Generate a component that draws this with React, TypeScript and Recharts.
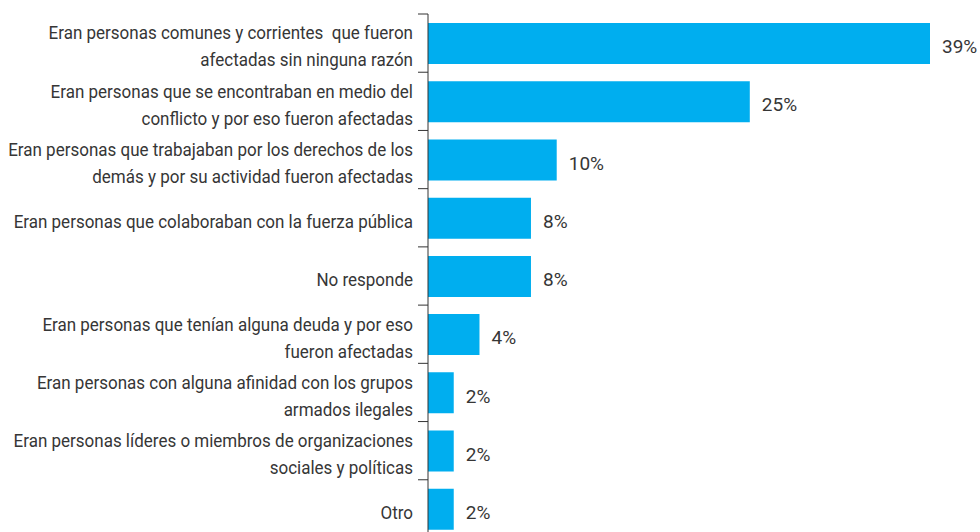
import React from 'react';
import { BarChart, Bar, XAxis, YAxis, LabelList } from 'recharts';

const categories = [
  'Eran personas comunes y corrientes  que fueron\nafectadas sin ninguna razón',
  'Eran personas que se encontraban en medio del\nconflicto y por eso fueron afectadas',
  'Eran personas que trabajaban por los derechos de los\ndemás y por su actividad fueron afectadas',
  'Eran personas que colaboraban con la fuerza pública',
  'No responde',
  'Eran personas que tenían alguna deuda y por eso\nfueron afectadas',
  'Eran personas con alguna afinidad con los grupos\narmados ilegales',
  'Eran personas líderes o miembros de organizaciones\nsociales y políticas',
  'Otro',
];
const values = [39, 25, 10, 8, 8, 4, 2, 2, 2];

const data = categories.map((c, i) => ({ name: c, value: values[i] }));

const FONT = 'Roboto, "Liberation Sans", Arial, sans-serif';
const TEXT = '#363636';
const BAND = 524 / categories.length;
const SQUEEZE = 0.895;

const CategoryTick = (props: any) => {
  const { x, y, payload } = props;
  const lines: string[] = String(payload.value).split('\n');
  const lh = 27;
  const start = 3 - ((lines.length - 1) * lh) / 2;
  return (
    <g>
      <line x1={x + 5} x2={x + 15} y1={y - BAND / 2} y2={y - BAND / 2} stroke="#333" strokeWidth={1} />
      <g transform={`translate(${x},${y}) scale(${SQUEEZE},1)`}>
        <text x={0} y={0} textAnchor="end" fill={TEXT} fontFamily={FONT} fontSize={19} style={{ whiteSpace: 'pre' }}>
          {lines.map((l, i) => (
            <tspan key={i} x={0} dy={i === 0 ? start : lh} dominantBaseline="central">
              {l}
            </tspan>
          ))}
        </text>
      </g>
    </g>
  );
};

export default function App() {
  return (
    <div style={{ position: 'absolute', left: 0, top: 0, width: 980, height: 532, overflow: 'hidden', background: '#fff' }}>
      <BarChart
        width={980}
        height={540}
        data={data}
        layout="vertical"
        margin={{ top: 14, right: 50, bottom: 2, left: 0 }}
      >
        <XAxis type="number" domain={[0, 39]} hide />
        <YAxis
          type="category"
          dataKey="name"
          width={428}
          axisLine={{ stroke: '#333', strokeWidth: 1 }}
          tickLine={false}
          tickMargin={0}
          tick={<CategoryTick />}
          tickSize={15}
          interval={0}
        />
        <Bar dataKey="value" fill="#00AEEF" barSize={41} isAnimationActive={false}>
          <LabelList
            dataKey="value"
            position="right"
            offset={12}
            dy={3}
            formatter={(v: any) => `${v}%`}
            fill={TEXT}
            fontFamily={FONT}
            fontSize={19}
          />
        </Bar>
      </BarChart>
    </div>
  );
}
